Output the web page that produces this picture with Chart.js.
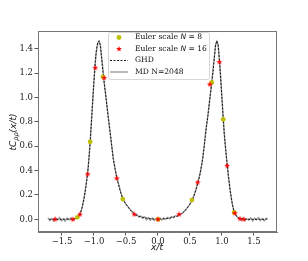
<!DOCTYPE html>
<html>
<head>
<meta charset="utf-8">
<script src="https://cdn.jsdelivr.net/npm/chart.js@4.4.0/dist/chart.umd.min.js"></script>
<style>
  html, body { margin: 0; padding: 0; background: #fff; }
  #wrap { width: 308px; height: 261px; }
</style>
</head>
<body>
<div id="wrap"><canvas id="corrChart"></canvas></div>
<script>
// tick labels
const xTicks = [-1.5, -1.0, -0.5, 0.0, 0.5, 1.0, 1.5];
const yTicks = [0.0, 0.2, 0.4, 0.6, 0.8, 1.0, 1.2, 1.4];

// Euler scale N = 8 (yellow dots)
const euler8X = [-1.26, -1.06, -0.86, -0.55, 0.0, 0.53, 0.84, 1.02, 1.19];
const euler8Y = [0.016, 0.636, 1.169, 0.166, 0.0, 0.158, 1.123, 0.82, 0.057];

// Euler scale N = 16 (red stars)
const euler16X = [-1.61, -1.33, -1.22, -1.10, -0.98, -0.84, -0.645, -0.37, 0.0, 0.33, 0.62, 0.81, 0.96, 1.08, 1.20, 1.28, 1.34];
const euler16Y = [0.0, 0.0, 0.04, 0.37, 1.243, 1.16, 0.336, 0.041, 0.0, 0.041, 0.303, 1.107, 1.29, 0.44, 0.05, 0.005, 0.0];

// GHD curve
const ghdX = [-1.70, -1.60, -1.50, -1.40, -1.35, -1.30, -1.26, -1.22, -1.19, -1.16, -1.13, -1.10, -1.08, -1.06, -1.04, -1.02, -1.00, -0.98, -0.96, -0.94, -0.92, -0.90, -0.88, -0.86, -0.84, -0.82, -0.80, -0.78, -0.76, -0.74, -0.72, -0.70, -0.67, -0.645, -0.60, -0.55, -0.50, -0.45, -0.40, -0.35, -0.30, -0.20, -0.10, 0.0,
  0.10, 0.20, 0.30, 0.35, 0.40, 0.45, 0.50, 0.55, 0.60, 0.645, 0.67, 0.70, 0.72, 0.74, 0.76, 0.78, 0.80, 0.82, 0.84, 0.86, 0.88, 0.90, 0.92, 0.94, 0.96, 0.98, 1.00, 1.02, 1.04, 1.06, 1.08, 1.10, 1.13, 1.16, 1.19, 1.22, 1.26, 1.30, 1.35, 1.40, 1.50, 1.60, 1.70];
const ghdY = [0.0, 0.0, 0.0, 0.001, 0.002, 0.005, 0.014, 0.04, 0.085, 0.16, 0.25, 0.37, 0.49, 0.63, 0.80, 0.97, 1.14, 1.29, 1.40, 1.45, 1.465, 1.43, 1.32, 1.21, 1.12, 1.03, 0.94, 0.85, 0.77, 0.68, 0.59, 0.50, 0.41, 0.34, 0.25, 0.168, 0.125, 0.088, 0.058, 0.037, 0.025, 0.012, 0.004, 0.0,
  0.004, 0.012, 0.025, 0.037, 0.058, 0.088, 0.125, 0.168, 0.25, 0.34, 0.41, 0.50, 0.59, 0.68, 0.77, 0.85, 0.94, 1.03, 1.12, 1.21, 1.32, 1.43, 1.465, 1.43, 1.31, 1.16, 0.99, 0.82, 0.67, 0.56, 0.46, 0.36, 0.23, 0.13, 0.06, 0.03, 0.012, 0.004, 0.002, 0.001, 0.0, 0.0, 0.0];

// MD N=2048 (noisy simulation)
const mdX = [-1.72, -1.69, -1.66, -1.63, -1.60, -1.57, -1.54, -1.51, -1.48, -1.45, -1.42, -1.39, -1.36, -1.33, -1.30, -1.27,
  -1.24, -1.21, -1.18, -1.15, -1.12, -1.09, -1.06, -1.03, -1.00, -0.97, -0.94, -0.92, -0.90, -0.87, -0.84, -0.81, -0.78, -0.75, -0.72, -0.69, -0.66, -0.63, -0.60, -0.57, -0.54, -0.51, -0.48, -0.45, -0.42,
  -0.39, -0.36, -0.33, -0.30, -0.27, -0.24, -0.21, -0.18, -0.15, -0.12, -0.09, -0.06, -0.03, 0.0, 0.03, 0.06, 0.09, 0.12, 0.15, 0.18, 0.21, 0.24, 0.27, 0.30, 0.33, 0.36,
  0.39, 0.42, 0.45, 0.48, 0.51, 0.54, 0.57, 0.60, 0.63, 0.66, 0.69, 0.72, 0.75, 0.78, 0.81, 0.84, 0.87, 0.90, 0.92, 0.94, 0.97, 1.00, 1.03, 1.06, 1.09, 1.12, 1.15, 1.18, 1.21, 1.24,
  1.27, 1.30, 1.33, 1.36, 1.39, 1.42, 1.45, 1.48, 1.51, 1.54, 1.57, 1.60, 1.63, 1.66, 1.69, 1.72];
const mdY = [0.012, -0.010, 0.006, -0.014, 0.008, -0.006, 0.015, -0.012, 0.004, -0.016, 0.010, -0.004, 0.012, -0.008, 0.006, 0.010,
  0.03, 0.055, 0.11, 0.19, 0.30, 0.43, 0.63, 0.89, 1.14, 1.35, 1.45, 1.46, 1.42, 1.28, 1.12, 0.99, 0.85, 0.72, 0.59, 0.47, 0.39, 0.32, 0.26, 0.20, 0.16, 0.13, 0.11, 0.092, 0.07,
  0.058, 0.035, 0.040, 0.018, 0.028, 0.008, 0.020, -0.004, 0.014, -0.008, 0.010, -0.010, 0.006, -0.008, 0.010, -0.006, 0.012, 0.000, 0.016, 0.004, 0.022, 0.014, 0.030, 0.026, 0.042, 0.045,
  0.055, 0.07, 0.09, 0.11, 0.135, 0.17, 0.21, 0.26, 0.32, 0.38, 0.47, 0.59, 0.74, 0.85, 0.99, 1.12, 1.28, 1.43, 1.46, 1.43, 1.24, 0.99, 0.75, 0.56, 0.40, 0.27, 0.16, 0.08, 0.04, 0.018,
  0.006, -0.008, 0.010, -0.012, 0.004, -0.006, 0.012, -0.014, 0.008, -0.004, 0.014, -0.010, 0.006, -0.012, 0.010, 0.002];

const pts = (xs, ys) => xs.map((x, i) => ({ x: x, y: ys[i] }));

const SERIF = "'DejaVu Serif', serif";
const MATH = "'DejaVu Sans', sans-serif";
const YELLOW = "#bfbf00";
const RED = "#ff0000";

// filled five-point star, like the matplotlib '*' marker
function starImage(size, color) {
  const c = document.createElement("canvas");
  c.width = size; c.height = size;
  const g = c.getContext("2d");
  const cx = size / 2, cy = size / 2, ro = size / 2, ri = ro * 0.42;
  g.beginPath();
  for (let i = 0; i < 10; i++) {
    const r = i % 2 === 0 ? ro : ri;
    const a = -Math.PI / 2 + i * Math.PI / 5;
    const px = cx + r * Math.cos(a), py = cy + r * Math.sin(a);
    if (i === 0) g.moveTo(px, py); else g.lineTo(px, py);
  }
  g.closePath();
  g.fillStyle = color;
  g.fill();
  return c;
}
const redStar = starImage(6, RED);

function fmt(v) {
  const s = Math.abs(v).toFixed(1);
  return v < -1e-9 ? "\u2212" + s : s;
}

const framePlugin = {
  id: "frameAndLegend",
  afterDraw(chart) {
    const ctx = chart.ctx;
    const a = chart.chartArea;
    ctx.save();
    // axes frame
    ctx.strokeStyle = "#777";
    ctx.lineWidth = 1;
    ctx.strokeRect(Math.round(a.left) + 0.5, Math.round(a.top) + 0.5, Math.round(a.right - a.left) - 1, Math.round(a.bottom - a.top) - 1);

    // legend box
    const lx = 108, ly = 32, lw = 101, lh = 47;
    ctx.fillStyle = "rgba(255,255,255,0.85)";
    ctx.strokeStyle = "#d6d6d6";
    ctx.beginPath();
    ctx.roundRect(lx + 0.5, ly + 0.5, lw, lh, 2);
    ctx.fill();
    ctx.stroke();

    const mx = 119, tx = 135;
    const rows = [37.5, 49, 60.5, 72];
    const LF = 7.6;
    ctx.textBaseline = "middle";
    ctx.textAlign = "left";

    // row 1: yellow dot
    ctx.fillStyle = YELLOW;
    ctx.beginPath();
    ctx.arc(mx, rows[0], 2.4, 0, Math.PI * 2);
    ctx.fill();
    // row 2: red star
    ctx.drawImage(redStar, mx - 3, rows[1] - 3);
    // row 3: GHD dashed
    ctx.strokeStyle = "#000";
    ctx.lineWidth = 0.9;
    ctx.setLineDash([2, 1.5]);
    ctx.beginPath();
    ctx.moveTo(110, rows[2]); ctx.lineTo(128, rows[2]);
    ctx.stroke();
    ctx.setLineDash([]);
    // row 4: MD solid gray
    ctx.strokeStyle = "#8c8c8c";
    ctx.lineWidth = 1.2;
    ctx.beginPath();
    ctx.moveTo(110, rows[3]); ctx.lineTo(128, rows[3]);
    ctx.stroke();

    ctx.fillStyle = "#111";
    const ds = chart.data.datasets;
    [ds[0].label, ds[1].label].forEach((lab, i) => {
      // "Euler scale N = 8" with italic N
      const parts = lab.split("N");
      let x = tx;
      ctx.font = LF + "px " + SERIF;
      ctx.fillText(parts[0], x, rows[i]);
      x += ctx.measureText(parts[0]).width;
      ctx.font = "italic " + LF + "px " + MATH;
      ctx.fillText("N", x, rows[i]);
      x += ctx.measureText("N").width;
      ctx.font = LF + "px " + SERIF;
      ctx.fillText(parts[1], x, rows[i]);
    });
    ctx.font = LF + "px " + SERIF;
    ctx.fillText(ds[2].label, tx, rows[2]);
    ctx.fillText(ds[3].label, tx, rows[3]);

    // x axis title
    ctx.font = "italic 9px " + MATH;
    ctx.textAlign = "center";
    ctx.fillText("x/t", 157, 248);

    // y axis title with subscript
    ctx.translate(14, 132);
    ctx.rotate(-Math.PI / 2);
    ctx.textAlign = "left";
    const f1 = "italic 9px " + MATH, f2 = "italic 6.5px " + MATH;
    ctx.font = f1;
    const w1 = ctx.measureText("tC").width;
    const w3 = ctx.measureText("(x/t)").width;
    ctx.font = f2;
    const w2 = ctx.measureText("\u03c1\u03c1").width;
    let x0 = -(w1 + w2 + w3) / 2;
    ctx.font = f1;
    ctx.fillText("tC", x0, 0);
    x0 += w1;
    ctx.font = f2;
    ctx.fillText("\u03c1\u03c1", x0, 2.5);
    x0 += w2;
    ctx.font = f1;
    ctx.fillText("(x/t)", x0, 0);
    ctx.restore();
  }
};

new Chart(document.getElementById("corrChart"), {
  type: "scatter",
  data: {
    datasets: [
      {
        label: "Euler scale N = 8",
        data: pts(euler8X, euler8Y),
        pointStyle: "circle",
        pointRadius: 2.4,
        backgroundColor: YELLOW,
        borderColor: YELLOW,
        borderWidth: 0,
        order: 1
      },
      {
        label: "Euler scale N = 16",
        data: pts(euler16X, euler16Y),
        pointStyle: redStar,
        pointRadius: 3,
        backgroundColor: RED,
        borderColor: RED,
        order: 0
      },
      {
        label: "GHD",
        data: pts(ghdX, ghdY),
        showLine: true,
        borderColor: "#000",
        borderWidth: 0.9,
        borderDash: [2, 1.5],
        pointRadius: 0,
        tension: 0,
        order: 2
      },
      {
        label: "MD N=2048",
        data: pts(mdX, mdY),
        showLine: true,
        borderColor: "rgba(120,120,120,0.75)",
        borderWidth: 1.4,
        pointRadius: 0,
        tension: 0,
        order: 3
      }
    ]
  },
  options: {
    responsive: true,
    maintainAspectRatio: false,
    animation: false,
    events: [],
    layout: { padding: { top: 31, right: 31, left: 0, bottom: 0 } },
    plugins: {
      legend: { display: false },
      tooltip: { enabled: false }
    },
    scales: {
      x: {
        type: "linear",
        min: -1.875,
        max: 1.86,
        afterBuildTicks: s => { s.ticks = xTicks.map(v => ({ value: v })); },
        afterFit: s => { s.height = 29; },
        grid: { drawOnChartArea: false, drawTicks: true, tickLength: 3.5, color: "#555" },
        border: { display: true, color: "#777" },
        ticks: { color: "#222", font: { family: SERIF, size: 8.5 }, padding: 1.5, maxRotation: 0, callback: v => fmt(v) }
      },
      y: {
        type: "linear",
        min: -0.104,
        max: 1.545,
        afterBuildTicks: s => { s.ticks = yTicks.map(v => ({ value: v })); },
        afterFit: s => { s.width = 38; },
        grid: { drawOnChartArea: false, drawTicks: true, tickLength: 3.5, color: "#555" },
        border: { display: true, color: "#777" },
        ticks: { color: "#222", font: { family: SERIF, size: 8.5 }, padding: 1.5, callback: v => fmt(v) }
      }
    }
  },
  plugins: [framePlugin]
});
</script>
</body>
</html>
